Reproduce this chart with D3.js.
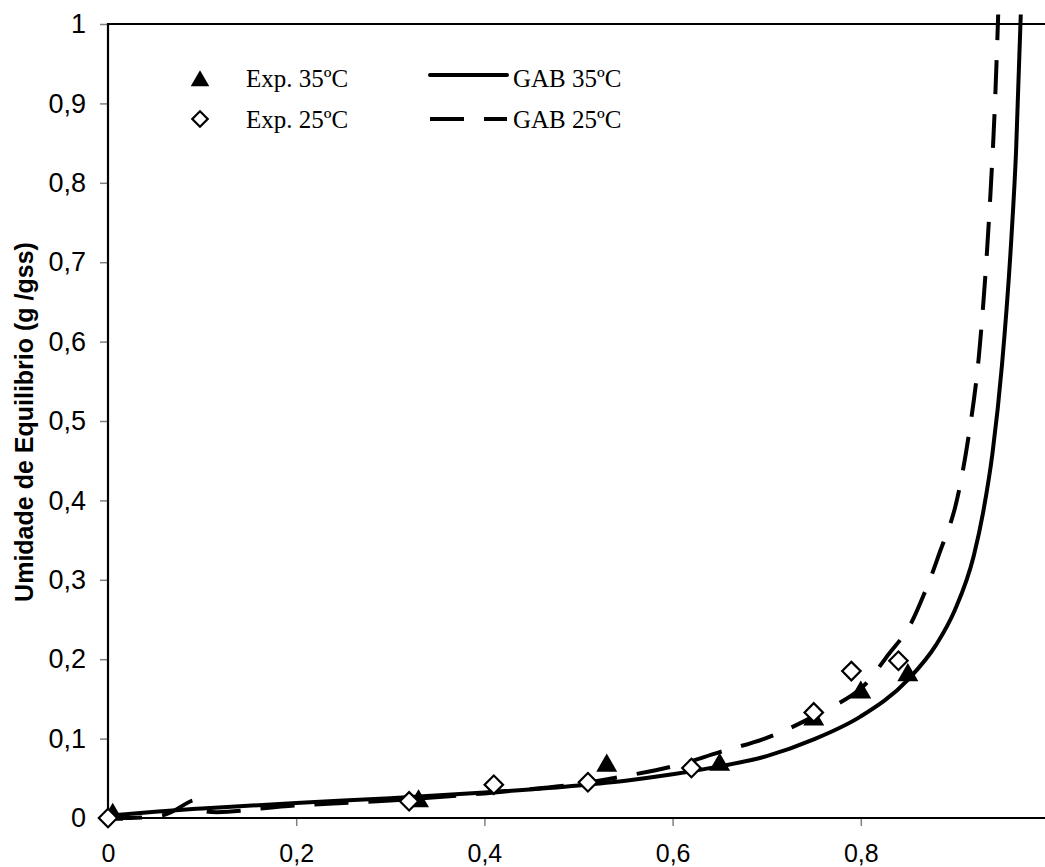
<!DOCTYPE html>
<html>
<head>
<meta charset="utf-8">
<script src="https://cdn.jsdelivr.net/npm/d3@7"></script>
<style>
  body { margin: 0; background: #fff; }
  svg { display: block; }
</style>
</head>
<body>
<svg id="chart" width="1045" height="867"></svg>
<script>

// experimental points (aw, X)
var exp35 = [[0.005, 0.004], [0.33, 0.021], [0.53, 0.066], [0.65, 0.067], [0.75, 0.124], [0.80, 0.158], [0.85, 0.180]]
var exp25 = [[0, 0.0], [0.32, 0.021], [0.41, 0.042], [0.51, 0.045], [0.62, 0.063], [0.75, 0.133], [0.79, 0.185], [0.84, 0.198]]

// GAB curves
var gab35 = [[0, 0.003], [0.05, 0.008], [0.1, 0.012], [0.2, 0.019], [0.3, 0.025], [0.4, 0.032], [0.5, 0.041],
    [0.55, 0.047], [0.6, 0.055], [0.65, 0.065], [0.7, 0.078], [0.75, 0.099], [0.8, 0.128], [0.85, 0.174],
    [0.88, 0.218], [0.9, 0.262], [0.92, 0.33], [0.93, 0.385], [0.94, 0.46], [0.95, 0.57], [0.96, 0.73],
    [0.965, 0.84], [0.97, 1.012]]
var gab25 = [[0, 0.0], [0.06, 0.004], [0.093, 0.022], [0.1, 0.01], [0.2, 0.016], [0.3, 0.022], [0.4, 0.031],
    [0.5, 0.043], [0.55, 0.053], [0.6, 0.065], [0.65, 0.083], [0.7, 0.101], [0.75, 0.128], [0.8, 0.163],
    [0.83, 0.207], [0.85, 0.238], [0.87, 0.29], [0.884, 0.335], [0.9, 0.39], [0.92, 0.525], [0.93, 0.645],
    [0.941, 0.858], [0.946, 1.012]]

var xTicks = [0, 0.2, 0.4, 0.6, 0.8]
var yTicks = [0, 0.1, 0.2, 0.3, 0.4, 0.5, 0.6, 0.7, 0.8, 0.9, 1]

var legendItems = [
    { label: 'Exp. 35ºC', kind: 'tri' },
    { label: 'Exp. 25ºC', kind: 'dia' }
]
var legendLines = [
    { label: 'GAB 35ºC', dash: null },
    { label: 'GAB 25ºC', dash: '34,20' }
]

var svg = d3.select('#chart')

var x = d3.scaleLinear().domain([0, 1]).range([108, 1049])
var y = d3.scaleLinear().domain([0, 1]).range([818, 24])

var fmt = d => d3.format('~g')(d).replace('.', ',')

// axes
svg.append('g')
    .attr('transform', 'translate(108,0)')
    .call(d3.axisLeft(y).tickValues(yTicks).tickSize(8).tickPadding(14).tickFormat(fmt))
    .call(g => g.select('.domain').remove())
    .call(g => g.selectAll('.tick line').attr('stroke', '#808080').attr('stroke-width', 1.5))
    .call(g => g.selectAll('.tick text')
        .style('font-family', '"Liberation Sans", Arial, sans-serif')
        .style('font-size', '27px')
        .attr('fill', '#000'))

svg.append('g')
    .attr('transform', 'translate(0,818)')
    .call(d3.axisBottom(x).tickValues(xTicks).tickSize(8).tickPadding(19).tickFormat(fmt))
    .call(g => g.select('.domain').remove())
    .call(g => g.selectAll('.tick line').attr('stroke', '#808080').attr('stroke-width', 1.5))
    .call(g => g.selectAll('.tick text')
        .style('font-family', '"Liberation Sans", Arial, sans-serif')
        .style('font-size', '25px')
        .attr('dy', '0.68em')
        .attr('fill', '#000'))

// frame
svg.append('path')
    .attr('d', 'M' + x(1) + ',' + y(1) + 'H' + x(0) + 'V' + y(0) + 'H' + x(1))
    .attr('fill', 'none')
    .attr('stroke', '#000')
    .attr('stroke-width', 2.2)

// y title
svg.append('text')
    .attr('transform', 'translate(33,422) rotate(-90)')
    .attr('text-anchor', 'middle')
    .style('font-family', '"Liberation Sans", Arial, sans-serif')
    .style('font-weight', 'bold')
    .style('font-size', '25px')
    .text('Umidade de Equilibrio (g /gss)')

var line = d3.line().x(d => x(d[0])).y(d => y(d[1])).curve(d3.curveMonotoneX)
var lineRaw = d3.line().x(d => x(d[0])).y(d => y(d[1])).curve(d3.curveCatmullRom.alpha(0.5))

svg.append('path')
    .datum(gab35)
    .attr('d', line)
    .attr('fill', 'none')
    .attr('stroke', '#000')
    .attr('stroke-width', 4)

svg.append('path')
    .datum(gab25)
    .attr('d', lineRaw)
    .attr('fill', 'none')
    .attr('stroke', '#000')
    .attr('stroke-width', 4)
    .attr('stroke-dasharray', '34,20')

var tri = d3.symbol().type(d3.symbolTriangle).size(190)
var dia = d3.symbol().type(d3.symbolSquare).size(170)

svg.selectAll('.tri')
    .data(exp35)
    .join('path')
    .attr('class', 'tri')
    .attr('transform', d => 'translate(' + x(d[0]) + ',' + y(d[1]) + ')')
    .attr('d', tri)
    .attr('fill', '#000')

svg.selectAll('.dia')
    .data(exp25)
    .join('path')
    .attr('class', 'dia')
    .attr('transform', d => 'translate(' + x(d[0]) + ',' + y(d[1]) + ') rotate(45)')
    .attr('d', dia)
    .attr('fill', '#fff')
    .attr('stroke', '#000')
    .attr('stroke-width', 2.2)

// legend
var leg = svg.append('g').attr('class', 'legend')

leg.selectAll('.lm')
    .data(legendItems)
    .join('path')
    .attr('class', 'lm')
    .attr('transform', (d, i) => 'translate(200,' + (81 + i * 38) + ')' + (d.kind == 'dia' ? ' rotate(45)' : ''))
    .attr('d', d => d.kind == 'tri' ? d3.symbol().type(d3.symbolTriangle).size(150)() : d3.symbol().type(d3.symbolSquare).size(120)())
    .attr('fill', d => d.kind == 'tri' ? '#000' : '#fff')
    .attr('stroke', d => d.kind == 'tri' ? 'none' : '#000')
    .attr('stroke-width', 2.2)

leg.selectAll('.lt')
    .data(legendItems)
    .join('text')
    .attr('class', 'lt')
    .attr('x', 246)
    .attr('y', (d, i) => 87 + i * 41)
    .style('font-family', '"Liberation Serif", "Times New Roman", serif')
    .style('font-size', '25px')
    .text(d => d.label)

leg.selectAll('.ll')
    .data(legendLines)
    .join('line')
    .attr('class', 'll')
    .attr('x1', 430)
    .attr('x2', 507)
    .attr('y1', (d, i) => 75 + i * 44)
    .attr('y2', (d, i) => 75 + i * 44)
    .attr('stroke', '#000')
    .attr('stroke-width', 4)
    .attr('stroke-linecap', d => d.dash ? 'butt' : 'round')
    .attr('stroke-dasharray', d => d.dash)

leg.selectAll('.lt2')
    .data(legendLines)
    .join('text')
    .attr('class', 'lt2')
    .attr('x', 513)
    .attr('y', (d, i) => 87 + i * 41)
    .style('font-family', '"Liberation Serif", "Times New Roman", serif')
    .style('font-size', '25px')
    .text(d => d.label)

</script>
</body>
</html>
